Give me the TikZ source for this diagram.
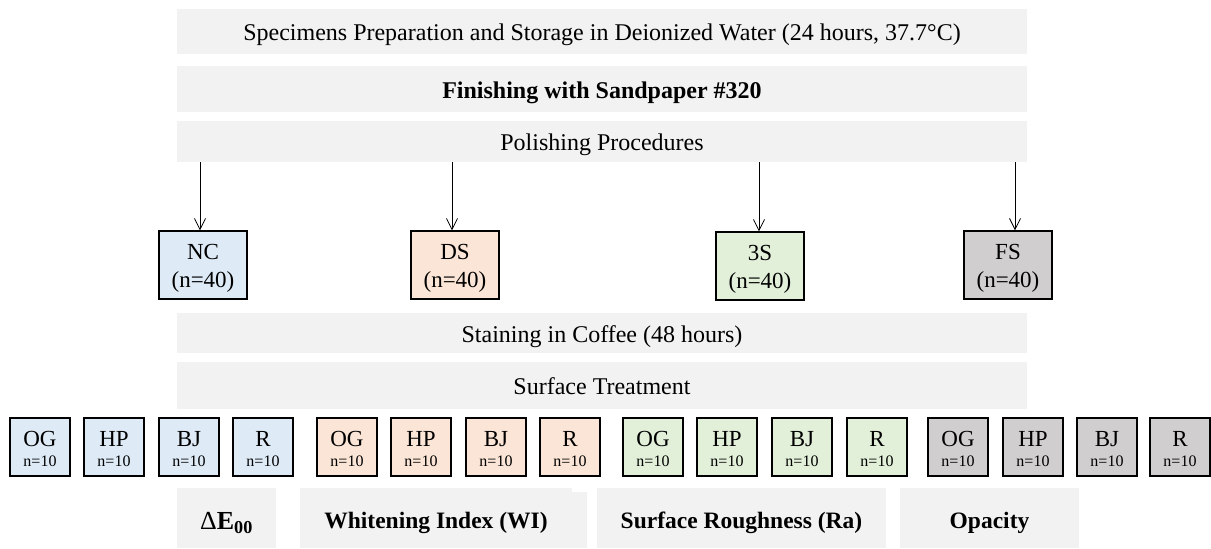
\documentclass[tikz,border=0pt]{standalone}
\usepackage{fontspec}
\setmainfont{Liberation Serif}
\usetikzlibrary{arrows.meta}

\definecolor{barfill}{HTML}{F2F2F2}
\definecolor{ncblue}{HTML}{DEEBF7}
\definecolor{dspeach}{HTML}{FBE5D6}
\definecolor{tsgreen}{HTML}{E2F0D9}
\definecolor{fsgray}{HTML}{D0CECE}
\newcommand{\cntsize}{\fontsize{16}{16}\selectfont}
\newcommand{\sublabel}[1]{\rule{0pt}{20pt}#1\\[-3pt]{\cntsize n=10}}
\newcommand{\grplabel}[1]{\rule{0pt}{21.5pt}#1\\(n=40)}

\begin{document}
\begin{tikzpicture}[x=1pt,y=-1pt,
    bar/.style={fill=barfill,inner sep=0pt,text height=18.9pt,text depth=0pt,
      font=\fontsize{24}{28}\selectfont},
    grp/.style={draw,line width=1.4pt,minimum width=88pt,minimum height=68pt,
      inner sep=0pt,align=center,font=\fontsize{23}{28}\selectfont},
    sub/.style={draw,line width=1.4pt,minimum width=60pt,minimum height=58pt,
      inner sep=0pt,align=center,font=\fontsize{23}{23}\selectfont},
    arr/.style={-{Straight Barb[length=11pt,width=11pt]},line width=0.8pt}]

    \useasboundingbox (0,0) rectangle (1211,549);

    % steps before polishing
    \begin{scope}[every node/.style={bar,minimum width=850pt}]
      \node[minimum height=45pt] (prep)   at (602,31.5) {Specimens Preparation and Storage in Deionized Water (24 hours, 37.7°C)};
      \node[minimum height=46pt] (finish) at (602,89) {\bfseries Finishing with Sandpaper \#320};
      \node[minimum height=41pt] (polish) at (602,141.5) {Polishing Procedures};
    \end{scope}

    % polishing groups
    \node[grp,fill=ncblue]   (nc) at (203,265) {\grplabel{NC}};
    \node[grp,fill=dspeach]  (ds) at (455,265) {\grplabel{DS}};
    \node[grp,fill=tsgreen]  (ts) at (760,266) {\grplabel{3S}};
    \node[grp,fill=fsgray]   (fs) at (1008,265) {\grplabel{FS}};

    \coordinate (ncin) at (200,162);
    \coordinate (dsin) at (452,162);
    \coordinate (tsin) at (759,162);
    \coordinate (fsin) at (1015,162);

    \begin{scope}[every path/.style={arr}]
      \draw (ncin) -- (ncin |- nc.north);
      \draw (dsin) -- (dsin |- ds.north);
      \draw (tsin) -- (tsin |- ts.north);
      \draw (fsin) -- (fsin |- fs.north);
    \end{scope}

    \begin{scope}[every node/.style={bar,minimum width=850pt}]
      \node[minimum height=40pt] (stain) at (602,333) {Staining in Coffee (48 hours)};
      \node[minimum height=47pt] (treat) at (602,385.5) {Surface Treatment};
    \end{scope}

    % surface treatment subgroups
    \begin{scope}[every node/.style={sub,fill=ncblue}]
      \node (ncog) at (40,447)  {\sublabel{OG}};
      \node (nchp) at (114,447) {\sublabel{HP}};
      \node (ncbj) at (189,447) {\sublabel{BJ}};
      \node (ncr)  at (263,447) {\sublabel{R}};
    \end{scope}
    \begin{scope}[every node/.style={sub,fill=dspeach}]
      \node (dsog) at (347,447) {\sublabel{OG}};
      \node (dshp) at (421,447) {\sublabel{HP}};
      \node (dsbj) at (496,447) {\sublabel{BJ}};
      \node (dsr)  at (570,447) {\sublabel{R}};
    \end{scope}
    \begin{scope}[every node/.style={sub,fill=tsgreen}]
      \node (tsog) at (653,447) {\sublabel{OG}};
      \node (tshp) at (727,447) {\sublabel{HP}};
      \node (tsbj) at (802,447) {\sublabel{BJ}};
      \node (tsr)  at (877,447) {\sublabel{R}};
    \end{scope}
    \begin{scope}[every node/.style={sub,fill=fsgray}]
      \node (fsog) at (958,447)  {\sublabel{OG}};
      \node (fshp) at (1033,447) {\sublabel{HP}};
      \node (fsbj) at (1107,447) {\sublabel{BJ}};
      \node (fsr)  at (1180,447) {\sublabel{R}};
    \end{scope}

    % outcomes
    \begin{scope}[every node/.style={bar,minimum height=60pt,text height=21.6pt,
        font=\fontsize{23.5}{28}\selectfont\bfseries}]
      \node[minimum width=99pt,text height=23pt,font=\fontsize{26}{30}\selectfont\bfseries]
        (de)  at (226.5,518) {{\mdseries Δ}E\textsubscript{00}};
      \node[minimum width=272pt] (wi)  at (436,518) {Whitening Index (WI)};
      \node[minimum width=289pt] (ra)  at (741.5,518) {Surface Roughness (Ra)};
      \node[minimum width=179pt] (opa) at (989.5,518) {Opacity};
    \end{scope}
    \fill[barfill] ([yshift=-4pt]wi.north east) rectangle ([xshift=15pt]wi.south east);

\end{tikzpicture}
\end{document}
